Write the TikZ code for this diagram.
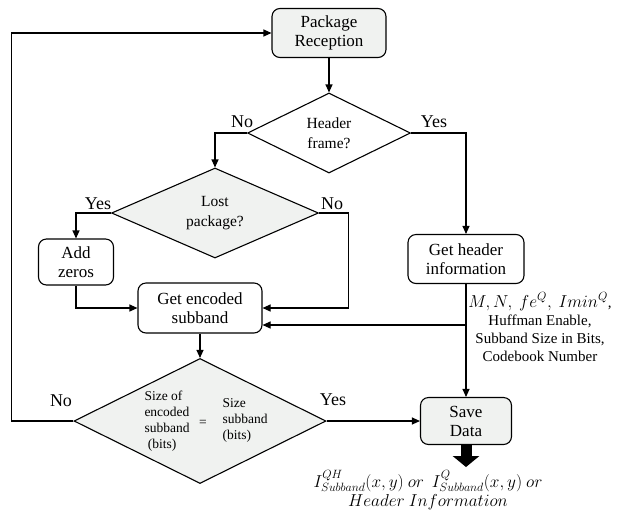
\documentclass[tikz,border=0pt]{standalone}
\usepackage{fontspec}
\setmainfont{Liberation Serif}
\usepackage{tikz}
\usetikzlibrary{
    positioning,
    shapes.geometric,
    arrows.meta
}
\definecolor{boxfill}{RGB}{240, 242, 240}
\DeclareMathSizes{17}{17}{13.5}{10}
\DeclareMathSizes{16}{16}{12.5}{10}

\begin{document}
\begin{tikzpicture}[
    x=1pt, y=-1pt,
    proc/.style={rectangle, draw, fill=#1, rounded corners=8pt, line width=1.1pt,
                 align=center, inner sep=0pt, font=\fontsize{17}{19}\selectfont},
    proc/.default=white,
    decide/.style={diamond, draw, fill=#1, line width=1.1pt, aspect=2.3,
                   align=center, inner sep=0pt, font=\fontsize{15.5}{20}\selectfont},
    decide/.default=white,
    lbl/.style={font=\fontsize{18}{20}\selectfont},
    arrow/.style={-{Triangle[length=8pt, width=7pt]}, line width=1.1pt},
    outtxt/.style={font=\fontsize{16}{18}\selectfont, inner sep=0pt}
]
\useasboundingbox (0,0) rectangle (617,512);

% ============================================
% RECEPTION AND HEADER CHECK
% ============================================
\node[proc=boxfill, minimum width=114pt, minimum height=49pt] (recv) at (329, 33)
    {Package\\Reception};
\node[decide, minimum width=163pt, minimum height=80pt] (hdr) at (329, 133)
    {Header\\frame?};
\draw[arrow] (recv) -- (hdr);

\node[lbl] (hdrno) at (242, 122) {No};
\node[lbl] (hdryes) at (434, 122) {Yes};

% ============================================
% LOST PACKAGE BRANCH
% ============================================
\node[decide=boxfill, minimum width=207pt, minimum height=90pt] (lost) at (215, 213)
    {Lost\\package?};
\node[lbl] (lostyes) at (98, 204) {Yes};
\node[lbl] (lostno) at (332, 204) {No};

\node[proc, minimum width=75pt, minimum height=46pt] (zeros) at (76, 262)
    {Add\\zeros};
\node[proc, minimum width=124pt, minimum height=50pt] (getsub) at (200, 308)
    {Get encoded\\subband};

\draw[arrow] (hdr.west) -| (lost.north);
\draw[arrow] (lost.west) -| (zeros.north);
\draw[arrow] (zeros.south) |- (getsub.west);
\draw[arrow] (lost.east) -- ++(29,0) |- (getsub.east);

% ============================================
% HEADER INFORMATION BRANCH
% ============================================
\node[proc, minimum width=116pt, minimum height=49pt] (gethdr) at (466, 259)
    {Get header\\information};
\node[proc=boxfill, minimum width=91pt, minimum height=47pt] (save) at (466, 421)
    {Save\\Data};

\draw[arrow] (hdr.east) -| (gethdr.north);
\draw[arrow] (gethdr.south) -- (save.north);
\coordinate (tap) at (466, 325);
\draw[arrow] (tap) -- (getsub.east |- tap);

\node[font=\fontsize{15}{18}\selectfont, align=center] (params) at (540, 327)
    {{\fontsize{16}{18}\selectfont$M, N,\ fe^{Q},\ Imin^{Q}$},\\Huffman Enable,\\Subband Size in Bits,\\Codebook Number};

% ============================================
% SIZE CHECK
% ============================================
\node[diamond, draw, fill=boxfill, line width=1.1pt, inner sep=0pt,
      minimum width=252pt, minimum height=125pt] (cmp) at (200, 421) {};
\node[font=\fontsize{13.5}{16}\selectfont, align=left] (cmpl) at (167, 421)
    {Size of\\encoded\\subband\\\ (bits)};
\node[font=\fontsize{13.5}{16}\selectfont] (cmpeq) at (203, 423) {=};
\node[font=\fontsize{13.5}{16}\selectfont, align=left] (cmpr) at (245, 420)
    {Size\\subband\\(bits)};
\draw[arrow] (getsub) -- (cmp);

\node[lbl] (cmpno) at (61, 401) {No};
\node[lbl] (cmpyes) at (333, 400) {Yes};

\draw[arrow] (cmp.east) -- (save.west);
\draw[arrow] (cmp.west) -- ++(-62,0) |- (recv.west);

% ============================================
% OUTPUT
% ============================================
\draw[line width=11pt, -{Triangle[length=11pt, width=26pt]}] (save.south) -- ++(0,22);
\node[outtxt] (out1) at (428, 481)
    {$I^{QH}_{Subband}(x,y)\ or\ \ I^{Q}_{Subband}(x,y)\ or$};
\node[outtxt, below=3pt of out1] (out2) {$Header\ Information$};

\end{tikzpicture}
\end{document}
